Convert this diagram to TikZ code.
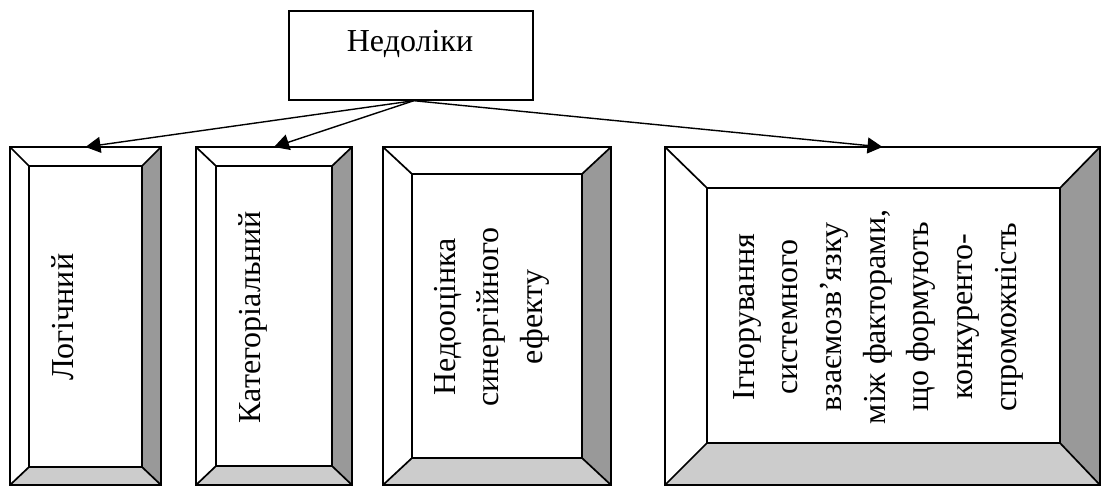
\documentclass[tikz,border=0pt]{standalone}
\usepackage{fontspec}
\setmainfont{Liberation Serif}
\usetikzlibrary{calc,arrows.meta}
\definecolor{darkbevel}{RGB}{153,153,153}
\definecolor{lightbevel}{RGB}{204,204,204}
\newcommand\fsz{\fontsize{32}{43.7}\selectfont}
\newcommand\bevbox[9]{%
  \coordinate (#1-o1) at (#2,#3);
  \coordinate (#1-o2) at (#4,#3);
  \coordinate (#1-o3) at (#4,#5);
  \coordinate (#1-o4) at (#2,#5);
  \coordinate (#1-i1) at (#6,#7);
  \coordinate (#1-i2) at (#8,#7);
  \coordinate (#1-i3) at (#8,#9);
  \coordinate (#1-i4) at (#6,#9);
  \fill[white] (#1-o1) -- (#1-o2) -- (#1-i2) -- (#1-i1) -- cycle;
  \fill[white] (#1-o1) -- (#1-i1) -- (#1-i4) -- (#1-o4) -- cycle;
  \fill[darkbevel] (#1-o2) -- (#1-o3) -- (#1-i3) -- (#1-i2) -- cycle;
  \fill[lightbevel] (#1-o4) -- (#1-i4) -- (#1-i3) -- (#1-o3) -- cycle;
  \draw[boxline] (#1-o1) rectangle (#1-o3);
  \draw[boxline] (#1-i1) rectangle (#1-i3);
  \draw[boxline] (#1-o1) -- (#1-i1) (#1-o2) -- (#1-i2) (#1-o3) -- (#1-i3) (#1-o4) -- (#1-i4);
  \coordinate (#1-top) at ($(#1-o1)!0.5!(#1-o2)$);
}
\tikzset{
  boxline/.style={draw=black, line width=1.7pt, line join=miter},
  arr/.style={draw=black, line width=1.4pt, -{Triangle[length=15pt,width=16pt]}},
  vtext/.style={rotate=90, anchor=base, inner sep=0pt, font=\fsz},
  toptext/.style={anchor=base, inner sep=0pt, font=\fsz},
  topbox/.style={boxline, fill=white, minimum width=244pt, minimum height=89pt, inner sep=0pt, anchor=north west}
}
\begin{document}
\begin{tikzpicture}[x=1pt,y=-1pt]
\useasboundingbox (0,0) rectangle (1101,486);
\fill[white] (0,0) rectangle (1101,486);
% top box
\node[topbox] (top) at (288,10) {};
\node[toptext] (toplabel) at (410,52) {Недоліки};
\coordinate (src) at ([xshift=3pt]top.south);
% bevel boxes
\bevbox{b1}{10}{147}{161}{485}{29}{166}{142}{467}
\bevbox{b2}{196}{147}{352}{485}{216}{166}{332}{466}
\bevbox{b3}{383}{147}{611}{485}{412}{174}{582}{458}
\bevbox{b4}{665}{147}{1100}{485}{707}{188}{1060}{443}
% texts
\node[vtext] (t1) at (73,317) {\begin{tabular}[t]{@{}c@{}}Логічний\end{tabular}};
\node[vtext] (t2) at (260,317) {\begin{tabular}[t]{@{}c@{}}Категоріальний\end{tabular}};
\node[vtext] (t3) at (455,317) {\begin{tabular}[t]{@{}c@{}}Недооцінка\\синергійного\\ефекту\end{tabular}};
\node[vtext] (t4) at (754,317) {\begin{tabular}[t]{@{}c@{}}Ігнорування\\системного\\взаємозв’язку\\між факторами,\\що формують\\конкуренто-\\спроможність\end{tabular}};
% arrows
\draw[arr] (src) -- (b1-top);
\draw[arr] (src) -- (b2-top);
\draw[arr] (src) -- (b4-top);
\end{tikzpicture}
\end{document}
